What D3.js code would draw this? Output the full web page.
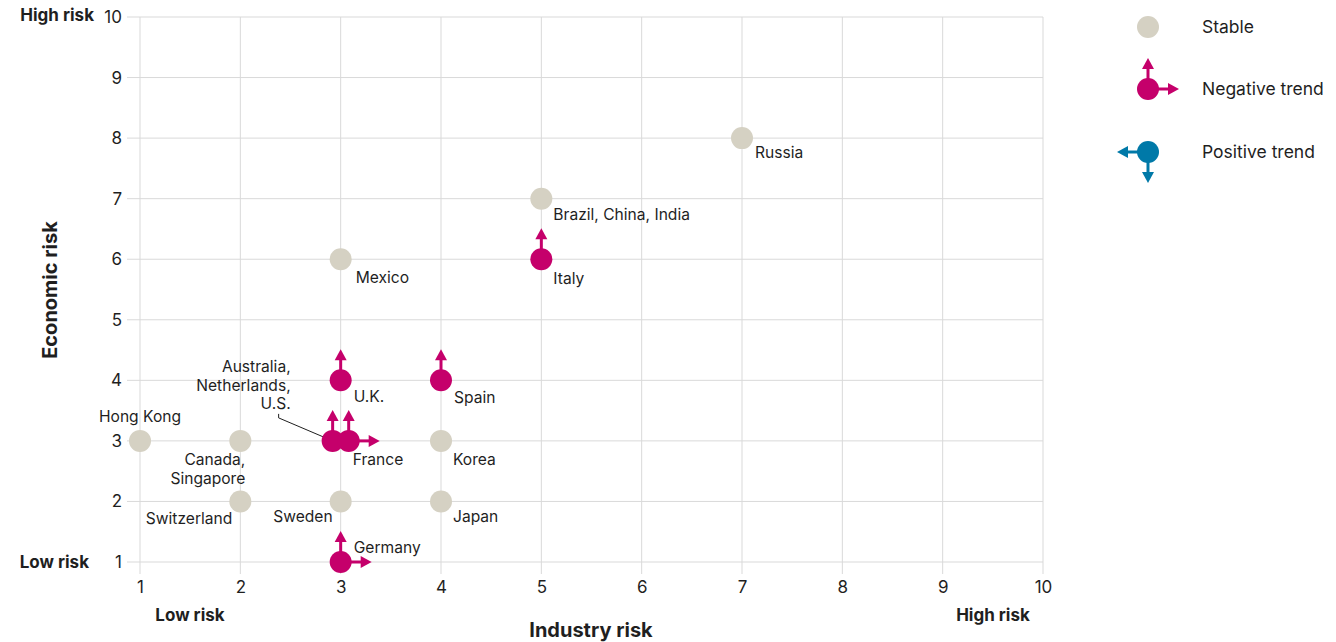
<!DOCTYPE html>
<html>
<head>
<meta charset="utf-8">
<script src="https://cdn.jsdelivr.net/npm/d3@7"></script>
<style>
  body { margin: 0; background: #fff; font-family: Inter, "Noto Sans", sans-serif; }
  svg text { fill: #1f1f1f; }
</style>
</head>
<body>
<svg id="chart" width="1336" height="642"></svg>
<script>
// data
const countries = ["Hong Kong", "Canada,\nSingapore", "Switzerland", "Sweden", "Japan", "Korea",
  "Mexico", "Brazil, China, India", "Russia", "Italy", "Spain", "U.K.",
  "Australia,\nNetherlands,\nU.S.", "France", "Germany"];
const industryRisk = [1, 2, 2, 3, 4, 4, 3, 5, 7, 5, 4, 3, 2.92, 3.08, 3];
const economicRisk = [3, 3, 2, 2, 2, 3, 6, 7, 8, 6, 4, 4, 3, 3, 1];
const trend = ["stable", "stable", "stable", "stable", "stable", "stable",
  "stable", "stable", "stable", "negative", "negative", "negative",
  "negative", "negative", "negative"];
const arrows = [[], [], [], [], [], [], [], [], [], ["up"], ["up"], ["up"],
  ["up"], ["up", "right"], ["up", "right"]];
const ticks = [1, 2, 3, 4, 5, 6, 7, 8, 9, 10];
const legendItems = ["Stable", "Negative trend", "Positive trend"];
const legendArrows = [[], ["up", "right"], ["left", "down"]];
const legendTrend = ["stable", "negative", "positive"];

const colors = { stable: "#d5d1c3", negative: "#c5006b", positive: "#0079a8" };

// label placement (layout only)
const labelPos = {
  "Hong Kong": { dx: 0, dy: -24, anchor: "middle" },
  "Canada,\nSingapore": { dx: 5, dy: 19, anchor: "end" },
  "Switzerland": { dx: -8, dy: 17, anchor: "end" },
  "Sweden": { dx: -8, dy: 15, anchor: "end" },
  "Japan": { dx: 12, dy: 15, anchor: "start" },
  "Korea": { dx: 12, dy: 19, anchor: "start" },
  "Mexico": { dx: 15, dy: 18, anchor: "start" },
  "Brazil, China, India": { dx: 12, dy: 16, anchor: "start" },
  "Russia": { dx: 13, dy: 14, anchor: "start" },
  "Italy": { dx: 12, dy: 19, anchor: "start" },
  "Spain": { dx: 13, dy: 17, anchor: "start" },
  "U.K.": { dx: 13, dy: 16, anchor: "start" },
  "Australia,\nNetherlands,\nU.S.": { dx: -42, dy: -74, anchor: "end" },
  "France": { dx: 4, dy: 19, anchor: "start" },
  "Germany": { dx: 13, dy: -14, anchor: "start" }
};

const svg = d3.select("#chart");
const margin = { top: 17, left: 140 };
const innerW = 903, innerH = 545;
const g = svg.append("g").attr("transform", `translate(${margin.left},${margin.top})`);

const x = d3.scaleLinear().domain([1, 10]).range([0, innerW]);
const y = d3.scaleLinear().domain([1, 10]).range([innerH, 0]);

// grid
g.append("g").selectAll("line").data(ticks).join("line")
  .attr("x1", -13).attr("x2", innerW)
  .attr("y1", d => y(d)).attr("y2", d => y(d))
  .attr("stroke", "#d9d9d9").attr("stroke-width", 1);
g.append("g").selectAll("line").data(ticks).join("line")
  .attr("x1", d => x(d)).attr("x2", d => x(d))
  .attr("y1", 0).attr("y2", innerH + 12)
  .attr("stroke", "#d9d9d9").attr("stroke-width", 1);

// axes (labels only)
const yAxis = g.append("g").attr("transform", "translate(-18,0)")
  .call(d3.axisLeft(y).tickValues(ticks).tickSize(0).tickPadding(0));
const xAxis = g.append("g").attr("transform", `translate(0,${innerH + 14})`)
  .call(d3.axisBottom(x).tickValues(ticks).tickSize(0).tickPadding(0));
[yAxis, xAxis].forEach(a => {
  a.select(".domain").remove();
  a.selectAll("text").style("font-size", "17px").style("font-family", "Inter, sans-serif").attr("fill", "#1f1f1f");
});
xAxis.selectAll("text").attr("dy", "1em");

// axis titles
svg.append("text").attr("x", 591).attr("y", 637).attr("text-anchor", "middle")
  .style("font-size", "20px").style("font-weight", "bold").text("Industry risk");
svg.append("text").attr("transform", "translate(57,290) rotate(-90)").attr("text-anchor", "middle")
  .style("font-size", "20px").style("font-weight", "bold").text("Economic risk");
svg.append("text").attr("x", 94).attr("y", 21).attr("text-anchor", "end")
  .style("font-size", "17px").style("font-weight", "bold").text("High risk");
svg.append("text").attr("x", 89).attr("y", 568).attr("text-anchor", "end")
  .style("font-size", "17px").style("font-weight", "bold").text("Low risk");
svg.append("text").attr("x", 190).attr("y", 621).attr("text-anchor", "middle")
  .style("font-size", "17px").style("font-weight", "bold").text("Low risk");
svg.append("text").attr("x", 993).attr("y", 621).attr("text-anchor", "middle")
  .style("font-size", "17px").style("font-weight", "bold").text("High risk");

// arrow drawing: stem + triangle head, tip ~31px from center
function drawArrows(sel, dirs, color) {
  const rot = { up: -90, right: 0, left: 180, down: 90 };
  dirs.forEach(dir => {
    const a = sel.append("g").attr("transform", `rotate(${rot[dir]})`);
    a.append("line").attr("x1", 0).attr("x2", 21).attr("y1", 0).attr("y2", 0)
      .attr("stroke", color).attr("stroke-width", 3);
    a.append("path").attr("d", "M20,-6 L31,0 L20,6 Z").attr("fill", color);
  });
}

const points = countries.map((c, i) => ({
  name: c, ix: industryRisk[i], ey: economicRisk[i], trend: trend[i], arrows: arrows[i]
}));

// leader line for the Australia/Netherlands/U.S. label
const au = points.find(p => p.name.startsWith("Australia"));
g.append("path")
  .attr("d", `M${x(au.ix) - 54},${y(au.ey) - 27} l0,4 L${x(au.ix)},${y(au.ey)}`)
  .attr("fill", "none").attr("stroke", "#1f1f1f").attr("stroke-width", 1);

const pt = g.append("g").selectAll("g").data(points).join("g")
  .attr("transform", d => `translate(${x(d.ix)},${y(d.ey)})`);
pt.each(function (d) { drawArrows(d3.select(this), d.arrows, colors[d.trend]); });
pt.append("circle").attr("r", 11).attr("fill", d => colors[d.trend]);

// labels
pt.each(function (d) {
  const p = labelPos[d.name];
  const t = d3.select(this).append("text")
    .attr("x", p.dx).attr("y", p.dy)
    .attr("text-anchor", p.anchor)
    .style("font-size", "15.6px");
  d.name.split("\n").forEach((line, i) => {
    t.append("tspan").attr("x", p.dx).attr("dy", i === 0 ? "0.35em" : "1.18em").text(line);
  });
});

// legend
const legend = svg.append("g").attr("transform", "translate(1148,27)");
legendItems.forEach((label, i) => {
  const row = legend.append("g").attr("transform", `translate(0,${[0, 62, 125][i]})`);
  drawArrows(row, legendArrows[i], colors[legendTrend[i]]);
  row.append("circle").attr("r", 11).attr("fill", colors[legendTrend[i]]);
  row.append("text").attr("x", 54).attr("dy", "0.35em").style("font-size", "17.5px").text(label);
});
</script>
</body>
</html>
